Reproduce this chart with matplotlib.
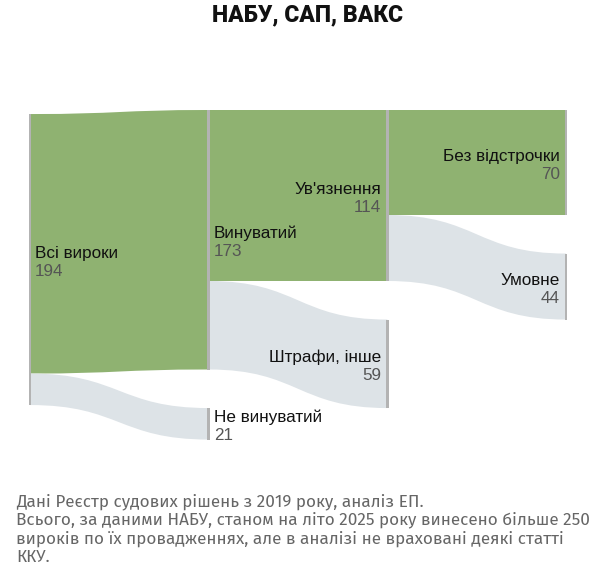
import matplotlib
matplotlib.use("Agg")
import matplotlib.pyplot as plt
from matplotlib.path import Path
from matplotlib.patches import PathPatch, Rectangle

# ---------------- data ----------------
node_names = ["Всі вироки", "Винуватий", "Не винуватий", "Ув'язнення",
              "Штрафи, інше", "Без відстрочки", "Умовне"]
node_values = [194, 173, 21, 114, 59, 70, 44]
node_columns = [0, 1, 1, 2, 2, 3, 3]

link_sources = [0, 0, 1, 1, 3, 3]
link_targets = [1, 2, 3, 4, 5, 6]
link_values = [173, 21, 114, 59, 70, 44]
link_kinds = ["main", "other", "main", "other", "main", "other"]

title = "НАБУ, САП, ВАКС"
footnote_lines = [
    "Дані Реєстр судових рішень з 2019 року, аналіз ЕП.",
    "Всього, за даними НАБУ, станом на літо 2025 року винесено більше 250",
    "вироків по їх провадженнях, але в аналізі не враховані деякі статті",
    "ККУ.",
]

# ---------------- style / layout ----------------
GREEN = "#8fb271"
GREY = "#dde3e7"
BAR = "#b3b3b3"
GAP = 25.7                 # vertical padding between nodes (value units)
COL_TOP = [2.7, 0, 0, 0]   # top offset of each column (value units)

W, H, DPI = 600, 572, 100
fig = plt.figure(figsize=(W / DPI, H / DPI), dpi=DPI)
ax = fig.add_axes([0, 0, 1, 1])
ax.axis("off")

# pixel mapping: column c at x = 30 + 178.67*c ; 1.5 px per unit, 0 at y=110 px
px_per_col = 178.67
x0px = 30
ax.set_xlim(-x0px / px_per_col, (W - x0px) / px_per_col)
ax.set_ylim((H - 110) / 1.5, -110 / 1.5)

# node layout
node_y = [0.0] * len(node_values)
col_cursor = {}
for i, (v, c) in enumerate(zip(node_values, node_columns)):
    y = col_cursor.get(c, COL_TOP[c])
    node_y[i] = y
    col_cursor[c] = y + v + GAP

# link layout
out_cursor = list(node_y)
in_cursor = list(node_y)
for s, t, v, k in zip(link_sources, link_targets, link_values, link_kinds):
    xs, xt = node_columns[s], node_columns[t]
    ys, yt = out_cursor[s], in_cursor[t]
    out_cursor[s] += v
    in_cursor[t] += v
    xm = (xs + xt) / 2
    verts = [(xs, ys), (xm, ys), (xm, yt), (xt, yt),
             (xt, yt + v),
             (xm, yt + v), (xm, ys + v), (xs, ys + v),
             (xs, ys)]
    codes = [Path.MOVETO, Path.CURVE4, Path.CURVE4, Path.CURVE4,
             Path.LINETO,
             Path.CURVE4, Path.CURVE4, Path.CURVE4,
             Path.CLOSEPOLY]
    ax.add_patch(PathPatch(Path(verts, codes),
                           facecolor=GREEN if k == "main" else GREY,
                           edgecolor="none", zorder=1))

# node bars
bar_w = 2.5 / px_per_col
for i, (v, c) in enumerate(zip(node_values, node_columns)):
    ax.add_patch(Rectangle((c - bar_w / 2, node_y[i]), bar_w, v,
                           facecolor=BAR, edgecolor="none", zorder=2))

# labels
lab_font = ["Liberation Sans", "DejaVu Sans"]
for i, (name, v, c) in enumerate(zip(node_names, node_values, node_columns)):
    mid = node_y[i] + v / 2
    if c <= 1:
        dx, ha = 5, "left"
    else:
        dx, ha = -6, "right"
    ax.annotate(name, (c, mid), xytext=(dx, 2), textcoords="offset pixels",
                ha=ha, va="baseline", fontsize=12.3, color="#111111",
                family=lab_font, zorder=3)
    ax.annotate(str(v), (c, mid), xytext=(dx, -16.5), textcoords="offset pixels",
                ha=ha, va="baseline", fontsize=12.3, color="#555555",
                family=lab_font, zorder=3)

fig.text(307 / W, 1 - 21 / H, title, ha="center", va="baseline",
         fontsize=16.5, fontweight="heavy", family=["Roboto", "DejaVu Sans"],
         color="#111111")

for j, line in enumerate(footnote_lines):
    fig.text(16 / W, 1 - (506 + 18.7 * j) / H, line, ha="left", va="baseline",
             fontsize=12.3, family=["Fira Sans", "Noto Sans", "DejaVu Sans"],
             color="#666666")

fig.savefig("out.png", dpi=DPI)
